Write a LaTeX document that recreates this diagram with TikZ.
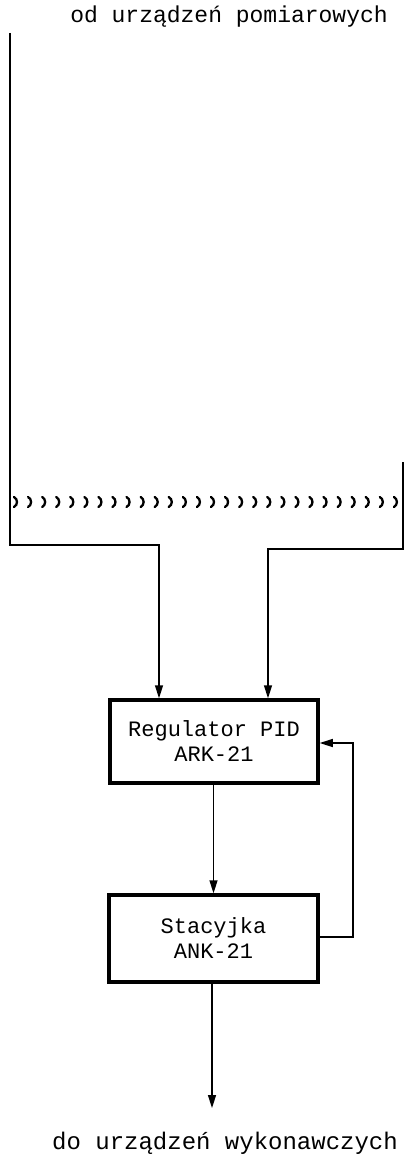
\documentclass[tikz,border=0pt]{standalone}
\usepackage{fontspec}
\setmonofont{Liberation Mono}
\usetikzlibrary{arrows.meta}
\begin{document}
\begin{tikzpicture}[x=1pt,y=1pt,
  conn/.style={line width=1.5pt},
  arr/.style={conn,-{Triangle[length=13pt,width=8pt]}},
  blockbox/.style={draw,line width=3.5pt,rectangle,inner sep=0pt,align=center,
    font=\ttfamily\fontsize{22}{25}\selectfont},
  label/.style={inner sep=0pt,font=\ttfamily\fontsize{23}{23}\selectfont},
  squig/.style={line width=2.3pt,line cap=round}]
\useasboundingbox (0,0) rectangle (404,-1158);
\fill[white] (0,0) rectangle (404,-1158);

% texts
\node[label] (top) at (229,-17) {od urządzeń pomiarowych};
\node[label,font=\ttfamily\fontsize{24}{24}\selectfont] (bot) at (225,-1143) {do urządzeń wykonawczych};

% blocks
\node[blockbox,minimum width=208pt,minimum height=83pt] (reg) at (214,-741.5) {Regulator PID\\ARK-21};
\node[blockbox,minimum width=209pt,minimum height=87pt] (stac) at (213.5,-938.5) {Stacyjka\\ANK-21};

% coordinates
\coordinate (lt) at (10,-33);
\coordinate (lin) at (159,-545);
\coordinate (rt) at (403,-462);
\coordinate (rin) at (268,-549);
\coordinate (fb) at (353,-937);
\coordinate (fbtop) at (353,-743);
\coordinate (out) at (212,-1108);

% break marks
\foreach \i in {0,...,27} {
  \pgfmathsetmacro{\xx}{14+\i*14.07}
  \draw[squig] (\xx,-497) .. controls (\xx+4,-499) and (\xx+4,-505) .. (\xx,-507);
}

% connectors
\draw[arr] (lt) |- (lin) -- (lin |- reg.north);
\draw[arr] (rt) |- (rin) -- (rin |- reg.north);
\draw[arr] (reg.south -| stac.north) -- (stac.north);
\draw[arr] (stac.east |- fb) -- (fb) -- (fbtop) -- (reg.east |- fbtop);
\draw[arr] (stac.south -| out) -- (out);
\end{tikzpicture}
\end{document}
